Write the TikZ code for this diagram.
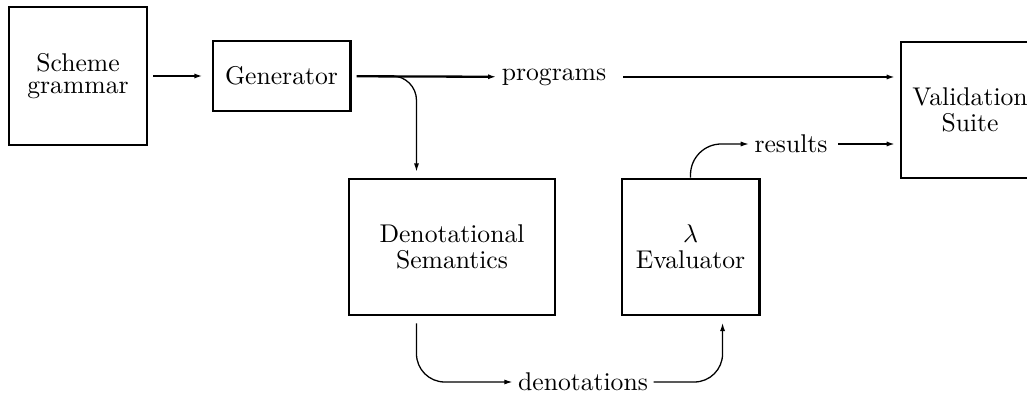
\documentclass[tikz,border=0pt]{standalone}
\usetikzlibrary{arrows.meta}
\tikzset{boxnode/.style={rectangle, draw=black, line width=0.8pt, inner sep=0pt, align=center},
labelnode/.style={inner sep=2pt},
flowarrow/.style={line width=0.9pt, -{Latex[length=3.2pt,width=2pt]}},
bendarrow/.style={line width=0.5pt, rounded corners=11pt, -{Latex[length=3.2pt,width=2pt]}},}

\begin{document}
\begin{tikzpicture}[x=0.39pt, y=-0.39pt]
\useasboundingbox (0,0) rectangle (1027,395);
\clip (0,0) rectangle (1027,395);
\node [boxnode, minimum width=53.8pt, minimum height=53.8pt] (gram) at (78,76) {Scheme\\[-3.2pt]grammar};
\node [boxnode, minimum width=53.8pt, minimum height=27.3pt] (gen) at (281.5,76) {Generator};
\node [boxnode, minimum width=53.8pt, minimum height=53.4pt] (valid) at (970,110) {Validation\\[-2pt]Suite};
\node [boxnode, minimum width=80.3pt, minimum height=53.4pt] (denot) at (452,247) {Denotational\\[-2pt]Semantics};
\node [boxnode, minimum width=53.8pt, minimum height=53.4pt] (eval) at (690.5,247) {$\lambda$\\[-2pt]Evaluator};
\node [labelnode] (programs) at (554,77) {programs};
\node [labelnode] (results) at (791,144) {results};
\node [labelnode] (denotations) at (583,382) {denotations};
\coordinate (split) at (393,76);
\coordinate (down) at ([xshift=26.7pt]denot.south west);
\coordinate (up) at ([xshift=39.8pt]eval.south west);
\draw [flowarrow, shorten <=2pt, shorten >=3.5pt] (gram) -- (gen);
\draw [flowarrow, shorten <=2pt] (gen) -- (programs);
\draw [flowarrow, shorten <=4.5pt, shorten >=2pt] (programs.east) -- (programs.east -| valid.west);
\draw [flowarrow, shorten <=2pt, shorten >=2pt] (results.east) -- (results.east -| valid.west);
\draw [bendarrow, rounded corners=9.5pt, shorten >=2.3pt] (split) -| ([xshift=26.7pt]denot.north west);
\draw [bendarrow, rounded corners=12pt] (eval.north) |- (results.west);
\draw [bendarrow, shorten <=2.7pt] (down) |- (denotations.west);
\draw [bendarrow, shorten >=2.5pt] (denotations.east) -| (up);
\end{tikzpicture}
\end{document}
